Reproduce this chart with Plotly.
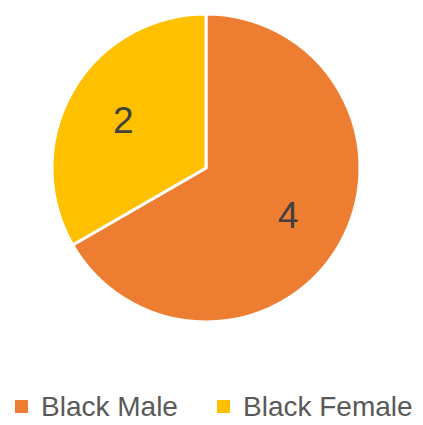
import math
import plotly.graph_objects as go

categories = ["Black Male", "Black Female"]
values = [4, 2]
colors = ["#ED7D31", "#FFC000"]

W, H = 423, 425
OFF = 8  # page body margin
cx, cy, R = 206 - OFF, 168 - OFF, 154


def fx(px):
    return (px - OFF) / W


def fy(py):
    return 1 - (py - OFF) / H


fig = go.Figure(go.Pie(
    labels=categories,
    values=values,
    sort=False,
    direction="clockwise",
    rotation=0,
    marker=dict(colors=colors, line=dict(color="white", width=3)),
    textinfo="none",
    domain=dict(x=[(cx - R) / W, (cx + R) / W], y=[1 - (cy + R) / H, 1 - (cy - R) / H]),
    hoverinfo="label+value",
    showlegend=False,
))

# value labels placed at the middle angle of each slice
total = sum(values)
start = 0.0
for v in values:
    mid = (start + v / total / 2) * 2 * math.pi
    start += v / total
    px = cx + 0.62 * R * math.sin(mid)
    py = cy - 0.62 * R * math.cos(mid)
    fig.add_annotation(x=px / W, y=1 - py / H, xref="paper", yref="paper",
                       xanchor="center", yanchor="middle",
                       text=str(v), showarrow=False,
                       font=dict(size=37, color="#404040", family="Liberation Sans"))

# legend: square marker + label per category
legend_x = [15, 217]  # page px of each legend entry's square
for i, (name, col) in enumerate(zip(categories, colors)):
    x0 = legend_x[i]
    fig.add_shape(type="rect", xref="paper", yref="paper",
                  x0=fx(x0), x1=fx(x0 + 13), y0=fy(413), y1=fy(400),
                  fillcolor=col, line=dict(width=0))
    fig.add_annotation(x=fx(x0 + 24), y=fy(406), xref="paper", yref="paper",
                       xanchor="left", yanchor="middle", text=name, showarrow=False,
                       font=dict(size=28, color="#595959", family="Liberation Sans"))

fig.update_layout(
    width=W, height=H,
    margin=dict(l=0, r=0, t=0, b=0, autoexpand=False),
    paper_bgcolor="white",
    showlegend=False,
)

fig.write_html("out.html")
